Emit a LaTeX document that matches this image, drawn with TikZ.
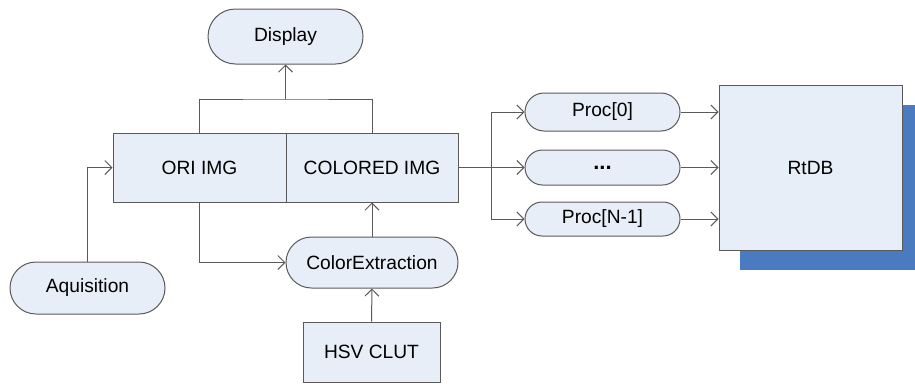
\documentclass[tikz,border=0pt]{standalone}
\usepackage{fontspec}
\setmainfont{Liberation Sans}
\usetikzlibrary{arrows.meta,shapes.misc,shadows}

\definecolor{boxfill}{RGB}{232,238,248}
\definecolor{linegray}{RGB}{90,90,90}
\definecolor{shadowblue}{RGB}{74,122,192}

\tikzset{
    blk/.style={draw=linegray, fill=boxfill, line width=1pt, rectangle,
        inner sep=0pt, font=\fontsize{19.2}{22}\selectfont},
    term/.style={blk, rounded rectangle},
    link/.style={draw=linegray, line width=1pt},
    >={Straight Barb[length=7pt,width=14pt]}
}

\begin{document}
\begin{tikzpicture}[x=1pt, y=-1pt]
    % Fix the page size
    \useasboundingbox (0,0) rectangle (915,383);

    % Image buffers
    \node[blk, minimum width=173pt, minimum height=69pt] (ori) at (199.5,167.5) {ORI IMG};
    \node[blk, minimum width=172pt, minimum height=69pt] (col) at (372,167.5) {COLORED IMG};

    % Terminals
    \node[term, minimum width=155pt, minimum height=55pt] (disp) at (285.5,36.5) {Display};
    \node[term, minimum width=155pt, minimum height=52pt] (aq) at (87.5,288) {Aquisition};
    \node[term, minimum width=172pt, minimum height=51pt] (cext) at (372,262.5) {ColorExtraction};
    \node[blk, minimum width=137pt, minimum height=60pt] (hsv) at (371.5,352) {HSV CLUT};

    % Processes
    \node[term, minimum width=155pt, minimum height=38pt] (p0) at (602.5,112) {Proc[0]};
    \node[term, minimum width=155pt, minimum height=35pt] (pd) at (602.5,167.5) {\fontsize{22}{22}\selectfont\textbf{...}};
    \node[term, minimum width=155pt, minimum height=34pt] (pn) at (602.5,219) {Proc[N-1]};

    % Database with its offset shadow
    \node[blk, minimum width=183pt, minimum height=165pt,
        general shadow={fill=shadowblue, draw=none, shadow xshift=21pt, shadow yshift=-20pt}]
        (rtdb) at (810.5,167.5) {RtDB};

    \coordinate (top) at (285.5,99);
    \coordinate (fork) at (491,167.5);

    % Buffers -> display
    \draw[link] (ori.north) |- (top) -| (col.north);
    \draw[link,->] (top) -- (disp.south);

    % Acquisition and color extraction
    \draw[link,->] (aq.north) |- (ori.west);
    \draw[link,->] (ori.south) |- (cext.west);
    \draw[link,->] (cext.north) -- (col.south);
    \draw[link,->] (hsv.north) -- (cext.south);

    % Fan out to the processes
    \draw[link] (col.east) -- (fork);
    \draw[link,->] (fork) |- (p0.west);
    \draw[link,->] (fork) -- (pd.west);
    \draw[link,->] (fork) |- (pn.west);

    % Processes -> RtDB
    \draw[link,->] (p0.east) -- (p0.east -| rtdb.west);
    \draw[link,->] (pd.east) -- (pd.east -| rtdb.west);
    \draw[link,->] (pn.east) -- (pn.east -| rtdb.west);
\end{tikzpicture}
\end{document}
